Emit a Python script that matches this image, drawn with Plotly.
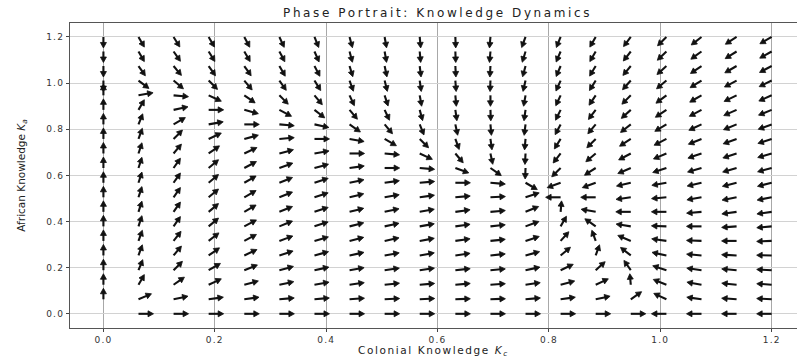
import math
import plotly.graph_objects as go

# ---------------- data ----------------
kc_values = [0.0, 0.063, 0.126, 0.189, 0.253, 0.316, 0.379, 0.442, 0.505, 0.568,
             0.632, 0.695, 0.758, 0.821, 0.884, 0.947, 1.011, 1.074, 1.137, 1.2]
ka_values = [0.0, 0.063, 0.126, 0.189, 0.253, 0.316, 0.379, 0.442, 0.505, 0.568,
             0.632, 0.695, 0.758, 0.821, 0.884, 0.947, 1.011, 1.074, 1.137, 1.2]

# on-screen arrow direction (degrees, counter-clockwise from +x) per Kc column, rows Ka bottom -> top
angle_col_00 = [None, 90, 90, 90, 90, 90, 90, 90, 90, 90, 90, 90, 90, 90, 90, 90, -90, -90, -90, -90]
angle_col_01 = [0, 23, 60, 68, 70, 70, 72, 72, 72, 72, 72, 72, 70, 68, 60, 10, -37, -55, -60, -60]
angle_col_02 = [0, 12, 35, 45, 50, 52, 55, 55, 55, 55, 55, 50, 45, 30, 12, -5, -40, -50, -55, -58]
angle_col_03 = [0, 8, 25, 30, 35, 38, 40, 40, 40, 40, 40, 35, 25, 10, 0, -25, -45, -55, -58, -60]
angle_col_04 = [0, 8, 15, 22, 25, 28, 28, 30, 30, 30, 28, 25, 15, 0, -15, -35, -50, -55, -60, -62]
angle_col_05 = [0, 5, 12, 15, 18, 20, 22, 22, 22, 22, 20, 15, 5, -5, -28, -45, -55, -60, -62, -65]
angle_col_06 = [0, 5, 10, 12, 15, 16, 18, 18, 18, 18, 15, 10, 0, -12, -38, -50, -58, -62, -66, -68]
angle_col_07 = [0, 4, 8, 10, 12, 14, 14, 14, 14, 12, 8, 0, -10, -35, -50, -65, -70, -73, -75, -75]
angle_col_08 = [0, 3, 6, 8, 10, 12, 12, 12, 10, 8, 0, -5, -30, -50, -65, -72, -76, -78, -80, -80]
angle_col_09 = [0, 3, 5, 8, 10, 10, 10, 10, 8, 5, -5, -25, -45, -68, -75, -80, -82, -83, -85, -85]
angle_col_10 = [0, 2, 5, 6, 8, 8, 8, 8, 5, 0, -20, -50, -70, -78, -82, -85, -86, -87, -88, -88]
angle_col_11 = [0, 2, 4, 5, 6, 6, 6, 5, 3, -5, -35, -78, -82, -85, -88, -90, -92, -93, -95, -95]
angle_col_12 = [0, 5, 8, 12, 15, 18, 20, 22, 18, -30, -92, -93, -95, -97, -98, -100, -103, -105, -107, -110]
angle_col_13 = [0, 8, 15, 25, 40, 48, 60, 85, 180, -160, -135, -128, -122, -118, -116, -115, -114, -113, -113, -112]
angle_col_14 = [0, 12, 25, 42, 70, 110, 145, 170, 180, -160, -147, -140, -135, -130, -127, -124, -122, -121, -120, -120]
angle_col_15 = [0, 35, 95, 125, 142, 157, 171, 180, -172, -167, -157, -152, -147, -142, -138, -135, -132, -130, -128, -127]
angle_col_16 = [180, 155, 158, 162, 168, 172, 178, 180, -175, -170, -162, -157, -153, -149, -146, -143, -140, -138, -136, -135]
angle_col_17 = [180, 172, 170, 172, 175, 178, 180, -175, -170, -167, -164, -161, -158, -155, -152, -150, -148, -146, -144, -142]
angle_col_18 = [180, 176, 174, 175, 177, 180, -176, -172, -169, -166, -164, -162, -160, -158, -156, -154, -152, -150, -148, -147]
angle_col_19 = [180, 177, 176, 177, 179, -178, -175, -172, -169, -166, -165, -164, -162, -160, -158, -156, -154, -152, -151, -150]

x_tick_vals = [0.0, 0.2, 0.4, 0.6, 0.8, 1.0, 1.2]
x_tick_text = ["0.0", "0.2", "0.4", "0.6", "0.8", "1.0", "1.2"]
y_tick_vals = [0.0, 0.2, 0.4, 0.6, 0.8, 1.0, 1.2]
y_tick_text = ["0.0", "0.2", "0.4", "0.6", "0.8", "1.0", "1.2"]

title_text = "Phase Portrait: Knowledge Dynamics"
x_label = "Colonial Knowledge <i>K</i><sub><i>c</i></sub>"
y_label = "African Knowledge <i>K</i><sub><i>a</i></sub>"

angle_columns = [angle_col_00, angle_col_01, angle_col_02, angle_col_03, angle_col_04,
                 angle_col_05, angle_col_06, angle_col_07, angle_col_08, angle_col_09,
                 angle_col_10, angle_col_11, angle_col_12, angle_col_13, angle_col_14,
                 angle_col_15, angle_col_16, angle_col_17, angle_col_18, angle_col_19]

# ---------------- layout geometry ----------------
W, H = 797, 358
ML, MR, MT, MB = 70, 0, 23, 30
XR = [-0.06, 1.2455]
YR = [-0.0615, 1.2605]
pw, ph = W - ML - MR, H - MT - MB
sx = pw / (XR[1] - XR[0])   # px per data unit
sy = ph / (YR[1] - YR[0])

LX, LY = 15.0, 11.0        # arrow length on screen (horizontal / vertical)
HEAD_L, HEAD_HW = 5.5, 3.0  # head length / half-width in px
ARROW_COLOR = "#111111"

shaft_x, shaft_y, head_x, head_y = [], [], [], []
for i, col in enumerate(angle_columns):
    for j, ang in enumerate(col):
        if ang is None:
            continue
        a = math.radians(ang)
        c, s = math.cos(a), math.sin(a)
        r = 1.0 / math.sqrt((c / LX) ** 2 + (s / LY) ** 2)
        x0, y0 = kc_values[i], ka_values[j]

        def pt(dx, dy):
            return x0 + dx / sx, y0 + dy / sy

        bx, by = (r - HEAD_L) * c, (r - HEAD_L) * s
        p0 = pt(0, 0)
        p1 = pt(bx + 0.8 * c, by + 0.8 * s)
        shaft_x += [p0[0], p1[0], None]
        shaft_y += [p0[1], p1[1], None]
        px_, py_ = -s, c
        h1 = pt(bx + px_ * HEAD_HW, by + py_ * HEAD_HW)
        h2 = pt(r * c, r * s)
        h3 = pt(bx - px_ * HEAD_HW, by - py_ * HEAD_HW)
        head_x += [h1[0], h2[0], h3[0], h1[0], None]
        head_y += [h1[1], h2[1], h3[1], h1[1], None]

fig = go.Figure()
fig.add_trace(go.Scatter(x=shaft_x, y=shaft_y, mode="lines",
                         line=dict(color=ARROW_COLOR, width=2.1),
                         hoverinfo="skip", showlegend=False))
fig.add_trace(go.Scatter(x=head_x, y=head_y, mode="lines", fill="toself",
                         fillcolor=ARROW_COLOR, line=dict(color=ARROW_COLOR, width=0.8),
                         hoverinfo="skip", showlegend=False))

tick_font = dict(family="DejaVu Sans", size=9, color="#333333")
fig.update_layout(
    width=W, height=H,
    margin=dict(l=ML, r=MR, t=MT, b=MB, pad=0),
    paper_bgcolor="white", plot_bgcolor="white",
    title=dict(text='<span style="letter-spacing:2.6px">' + title_text + '</span>',
               x=(ML + 0.5 * (103.3 + 1.26 * 557 - ML)) / W, xanchor="center",
               y=1 - 12.5 / H, yanchor="middle", yref="container",
               font=dict(family="DejaVu Sans", size=12, color="#222222")),
    xaxis=dict(range=XR, tickvals=x_tick_vals,
               ticktext=['<span style="letter-spacing:1.2px">' + t + '</span>' for t in x_tick_text],
               showgrid=True, gridcolor="#a8a8a8", gridwidth=1, zeroline=False,
               showline=True, linecolor="#555555", linewidth=1.2, mirror=True,
               ticks="outside", ticklen=3, tickcolor="#444444", tickfont=tick_font,
               title=dict(text='<span style="letter-spacing:1.6px">' + x_label + '</span>',
                          standoff=5, font=dict(family="DejaVu Sans", size=10.5, color="#222222"))),
    yaxis=dict(range=YR, tickvals=y_tick_vals,
               ticktext=['<span style="letter-spacing:1.2px">' + t + '</span>' for t in y_tick_text],
               showgrid=True, gridcolor="#d2d2d2", gridwidth=1.3, zeroline=False,
               showline=True, linecolor="#555555", linewidth=1.2, mirror=False,
               ticks="outside", ticklen=3, tickcolor="#444444", tickfont=tick_font,
               title=dict(text=y_label, standoff=18,
                          font=dict(family="DejaVu Sans", size=10.5, color="#222222"))),
)

fig.write_html("out.html")
